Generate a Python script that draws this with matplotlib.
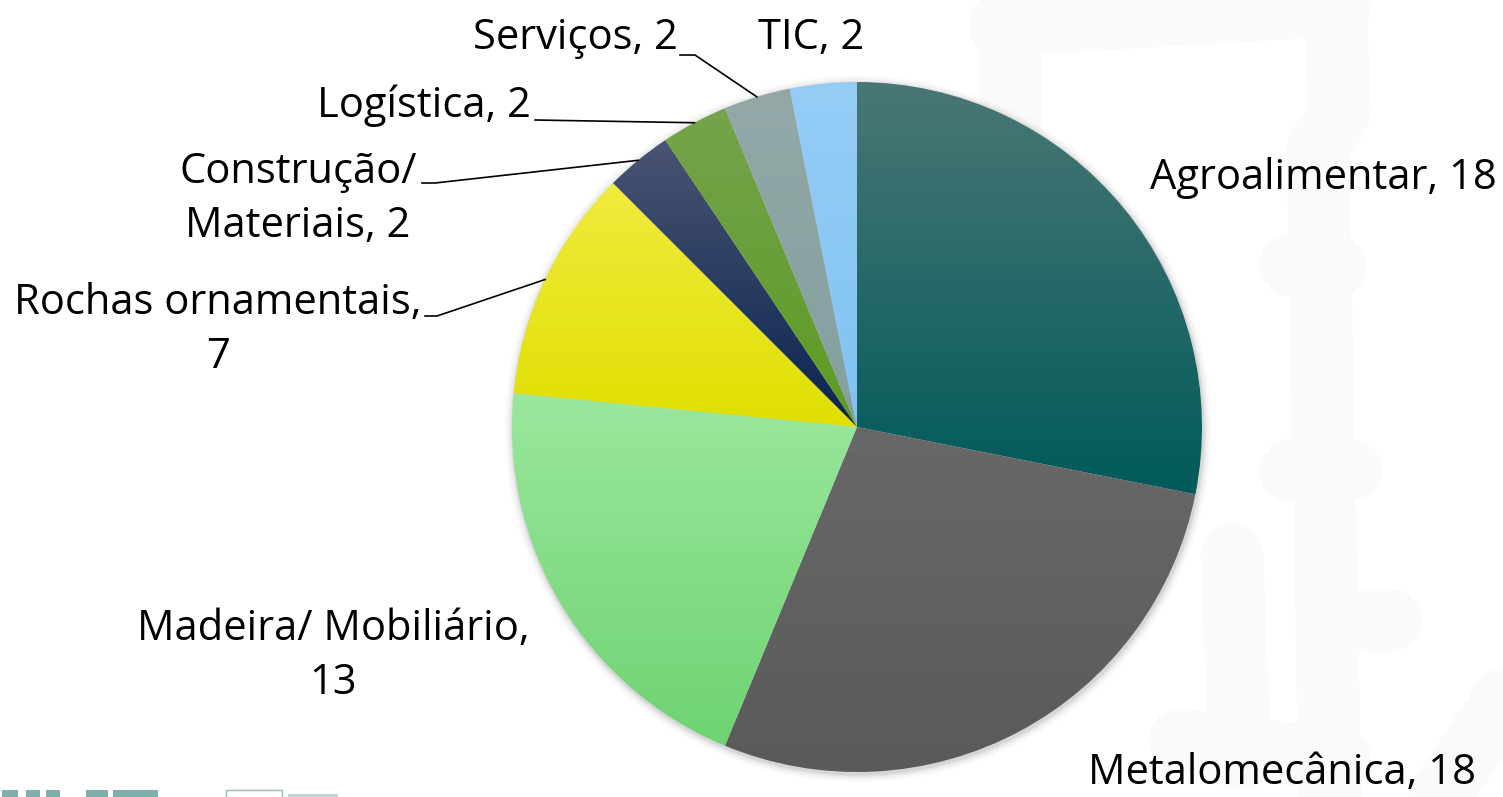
import matplotlib
matplotlib.use('Agg')
import matplotlib.pyplot as plt
import numpy as np
from matplotlib.colors import LinearSegmentedColormap
from matplotlib.patches import Circle, Rectangle

categories = ['Agroalimentar', 'Metalomecânica', 'Madeira/ Mobiliário', 'Rochas ornamentais',
              'Construção/ Materiais', 'Logística', 'Serviços', 'TIC']
values = [18, 18, 13, 7, 2, 2, 2, 2]
label_texts = ['Agroalimentar, 18', 'Metalomecânica, 18', 'Madeira/ Mobiliário,\n13',
               'Rochas ornamentais,\n7', 'Construção/\nMateriais, 2', 'Logística, 2',
               'Serviços, 2', 'TIC, 2']
top_colors = ['#4a7775', '#686868', '#9be79d', '#efeb3e', '#4a5472', '#76a34c', '#94a8a8', '#95cdf5']
bottom_colors = ['#005a5a', '#5a5a5a', '#6ed372', '#e0df00', '#0a2450', '#5b9b22', '#83a09e', '#80c3f4']

W, H = 1503, 797
fig = plt.figure(figsize=(W / 100, H / 100), dpi=100)
ax = fig.add_axes([0, 0, 1, 1])

def py(y):
    return H - y

# faint background watermark
wm = '#fafaf9'
wm_paths = [
    [(1010, 0), (1010, 150)],
    [(1000, 25), (1340, 5)],
    [(1335, 0), (1340, 110), (1318, 150), (1330, 797)],
    [(1290, 265), (1335, 265)],
    [(1290, 470), (1350, 470)],
    [(1365, 620), (1390, 620)],
    [(1232, 555), (1240, 760)],
    [(1180, 740), (1340, 760)],
    [(1440, 797), (1503, 700)],
]
for pts in wm_paths:
    ax.plot([p[0] for p in pts], [py(p[1]) for p in pts], color=wm, lw=45,
            solid_capstyle='round', solid_joinstyle='round', zorder=0)

# partial logos at the bottom-left edge
logo = '#2a7a72'
for x0, w in [(2, 16), (26, 14), (46, 14), (86, 22), (113, 45)]:
    ax.add_patch(Rectangle((x0, 0), w, 7, color=logo, alpha=0.6, lw=0, zorder=1))
ax.add_patch(Rectangle((226, -2), 56, 9, fill=False, ec=logo, lw=1.0, alpha=0.5, zorder=1))
ax.add_patch(Rectangle((288, 0), 50, 3, color=logo, alpha=0.3, lw=0, zorder=1))

cx, cy, R = 857, py(427), 345

# soft shadow
for k, a in [(9, 0.012), (7, 0.02), (5, 0.03), (3, 0.045), (1.5, 0.06)]:
    ax.add_patch(Circle((cx + 1, cy - 2), R + k, color='black', alpha=a, lw=0, zorder=1))

wedges, _ = ax.pie(values, startangle=90, counterclock=False, center=(cx, cy), radius=R,
                   frame=True, wedgeprops=dict(linewidth=0))

grad = np.linspace(0, 1, 256).reshape(-1, 1)
for w, tc, bc in zip(wedges, top_colors, bottom_colors):
    w.set_facecolor('none')
    w.set_edgecolor('none')
    ext = w.get_path().get_extents()
    cmap = LinearSegmentedColormap.from_list('g', [tc, bc])
    im = ax.imshow(grad, cmap=cmap, extent=(ext.x0, ext.x1, ext.y0, ext.y1),
                   origin='upper', aspect='auto', zorder=2, interpolation='bilinear')
    im.set_clip_path(w)

# label layout (pixel positions of text centres and leader start points)
label_pos = [(1323, 178), (1282, 773), (333, 656), (218, 330), (298, 199), (424, 106), (575, 38), (811, 38)]
leader_start = {3: [(425, 316), (437, 316)], 4: [(422, 183), (435, 183)],
                5: [(535, 120)], 6: [(680, 55), (695, 55)]}

font = 'Open Sans'
fs = 30
for i, (txt, (lx, ly)) in enumerate(zip(label_texts, label_pos)):
    ax.text(lx, py(ly), txt, ha='center', va='center', fontsize=fs, family=font,
            color='black', linespacing=1.37, multialignment='center', zorder=5)

total = sum(values)
cum = np.cumsum([0] + values)
for i, pts in leader_start.items():
    mid = (cum[i] + cum[i + 1]) / 2 / total * 2 * np.pi
    rx, ry = cx + R * np.sin(mid), cy + R * np.cos(mid)
    xs = [p[0] for p in pts] + [rx]
    ys = [py(p[1]) for p in pts] + [ry]
    ax.plot(xs, ys, color='black', lw=1.2, zorder=4)

ax.set_xlim(0, W)
ax.set_ylim(0, H)
ax.set_aspect('auto')
ax.axis('off')
fig.savefig('out.png', dpi=100)
